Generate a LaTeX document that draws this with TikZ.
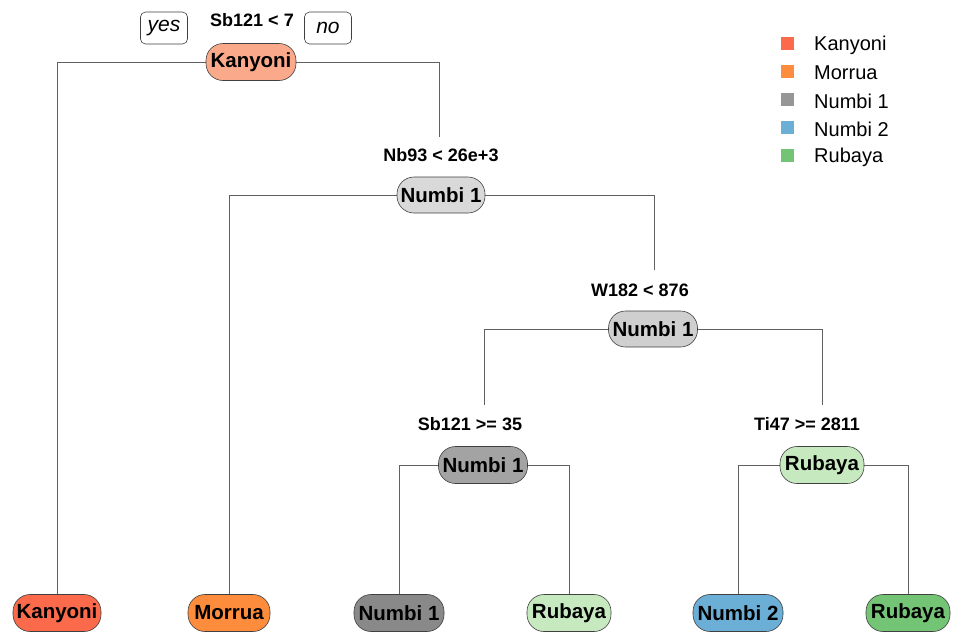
\documentclass[tikz,border=0pt]{standalone}
\usepackage{fontspec}
\setmainfont{Liberation Sans}
\definecolor{cKan}{HTML}{FA6A4B}
\definecolor{cKanL}{HTML}{FBA98B}
\definecolor{cMor}{HTML}{FD8D3C}
\definecolor{cNumA}{HTML}{D9D9D9}
\definecolor{cNumB}{HTML}{CFCFCF}
\definecolor{cNumC}{HTML}{A3A3A3}
\definecolor{cNumD}{HTML}{898989}
\definecolor{cNumLeg}{HTML}{969696}
\definecolor{cNum2}{HTML}{6BAED6}
\definecolor{cRubL}{HTML}{C7E9C0}
\definecolor{cRub}{HTML}{74C476}
\definecolor{cLine}{HTML}{606060}
\tikzset{
  tnode/.style={draw=black!75, line width=0.6pt, rounded corners=17pt, minimum height=37pt,
    inner sep=0pt, font=\fontsize{20.5}{24}\selectfont\bfseries},
  splitlab/.style={font=\fontsize{18}{21}\selectfont\bfseries, inner sep=0pt},
  yesno/.style={draw=black!75, line width=0.6pt, rounded corners=5pt, minimum width=47pt,
    minimum height=32pt, inner sep=0pt, font=\fontsize{21}{24}\selectfont\itshape},
  edge/.style={draw=cLine, line width=0.8pt},
  legsq/.style={fill=#1, minimum size=13pt, inner sep=0pt},
  legtxt/.style={anchor=west, inner sep=0pt, font=\fontsize{20}{24}\selectfont},
}
\begin{document}
\begin{tikzpicture}[x=1pt,y=-1pt]
\useasboundingbox (0,0) rectangle (954,633);
\fill[white] (0,0) rectangle (954,633);

% split labels
\node[splitlab] (s1) at (252,20) {Sb121 < 7};
\node[splitlab] (s2) at (441,155) {Nb93 < 26e+3};
\node[splitlab] (s3) at (640,290) {W182 < 876};
\node[splitlab] (s4) at (470,424) {Sb121 >= 35};
\node[splitlab] (s5) at (807,424) {Ti47 >= 2811};

\node[yesno] (yes) at (164,28) {yes};
\node[yesno] (no) at (328,28) {no};

% coordinates for free ends
\coordinate (c1l) at (57,62);
\coordinate (c1r) at (439,62);
\coordinate (c1e) at (439,137);
\coordinate (c2l) at (229,195);
\coordinate (c2r) at (654,195);
\coordinate (c2e) at (654,270);
\coordinate (c3l) at (484,329);
\coordinate (c3le) at (484,405);
\coordinate (c3r) at (822,329);
\coordinate (c3re) at (822,405);
\coordinate (c4l) at (399,465);
\coordinate (c4r) at (569,465);
\coordinate (c5l) at (738,465);
\coordinate (c5r) at (908,465);

% leaves
\node[tnode, fill=cKan, minimum width=88pt] (l1) at (57,613) {Kanyoni};
\node[tnode, fill=cMor, minimum width=82pt] (l2) at (229,613) {Morrua};
\node[tnode, fill=cNumD, minimum width=90pt] (l3) at (399,613) {Numbi 1};
\node[tnode, fill=cRubL, minimum width=84pt] (l4) at (569,613) {Rubaya};
\node[tnode, fill=cNum2, minimum width=90pt] (l5) at (738,613) {Numbi 2};
\node[tnode, fill=cRub, minimum width=84pt] (l6) at (908,613) {Rubaya};

% edges
\draw[edge] (c1l) -- (l1.north);
\draw[edge] (c1l) -- (c1r) -- (c1e);
\draw[edge] (c2l) -- (l2.north);
\draw[edge] (c2l) -- (c2r) -- (c2e);
\draw[edge] (c3le) -- (c3l) -- (c3r) -- (c3re);
\draw[edge] (l3.north) -- (c4l) -- (c4r) -- (l4.north);
\draw[edge] (l5.north) -- (c5l) -- (c5r) -- (l6.north);

% inner nodes
\node[tnode, fill=cKanL, minimum width=90pt] (n1) at (251,62) {Kanyoni};
\node[tnode, fill=cNumA, minimum width=88pt, minimum height=36pt] (n2) at (441,195) {Numbi 1};
\node[tnode, fill=cNumB, minimum width=89pt, minimum height=36pt] (n3) at (653,329) {Numbi 1};
\node[tnode, fill=cNumC, minimum width=89pt] (n4) at (483,465) {Numbi 1};
\node[tnode, fill=cRubL, minimum width=84pt] (n5) at (822,465) {Rubaya};

% legend
\node[legsq=cKan] (q1) at (787,43) {};
\node[legsq=cMor] (q2) at (787,71) {};
\node[legsq=cNumLeg] (q3) at (787,99) {};
\node[legsq=cNum2] (q4) at (787,127) {};
\node[legsq=cRub] (q5) at (787,155) {};
\node[legtxt] (t1) at (814,45) {Kanyoni};
\node[legtxt] (t2) at (814,73) {Morrua};
\node[legtxt] (t3) at (814,101) {Numbi 1};
\node[legtxt] (t4) at (814,129) {Numbi 2};
\node[legtxt] (t5) at (814,157) {Rubaya};
\end{tikzpicture}
\end{document}
